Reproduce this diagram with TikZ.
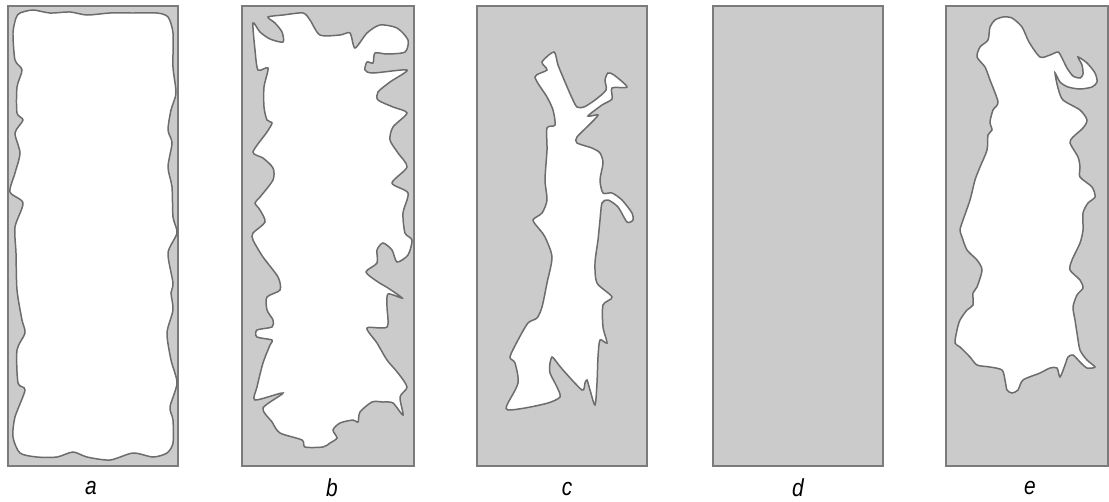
\documentclass[tikz,border=0pt]{standalone}
\usepackage{fontspec}
\setmainfont{Liberation Sans}
\definecolor{sand}{RGB}{203,203,203}
\definecolor{rim}{RGB}{108,108,108}
\tikzset{panel/.style = {fill=sand, draw=rim!90, line width=0.9pt}}
\tikzset{hole/.style = {fill=white, draw=rim, line width=0.85pt, smooth cycle, tension=0.45}}
\tikzset{tag/.style = {font=\fontsize{14}{16}\selectfont\itshape, xscale=0.85}}

\begin{document}
\begin{tikzpicture}[x=0.02cm, y=-0.02cm]
      \useasboundingbox (0,0) rectangle (1109,501);
      % a
      \draw [panel] (8,6) rectangle (178,466);
      \draw [hole] plot coordinates {(20,13) (33,10) (50,13) (70,12) (87,15) (110,13) (133,13) (157,13) (168,17)
        (173,33) (173,67) (176,93) (171,110) (168,130) (172,143) (168,167) (172,187) (173,217) (177,233)
        (168,253) (173,283) (171,293) (173,310) (167,333) (171,360) (177,383) (170,407) (173,420) (173,443)
        (167,453) (153,457) (133,453) (110,460) (87,457) (73,452) (57,457) (37,457) (20,453)
        (13,437) (15,417) (25,390) (18,383) (17,350) (25,333) (22,320) (17,290) (16,253) (15,227)
        (23,203) (10,192) (15,173) (20,153) (15,133) (23,120) (17,113) (17,87) (22,70) (15,60) (13,33) (16,18)};
      \node [tag] (la) at (91,488) {a};
      % b
      \draw [panel] (242,6) rectangle (414,466);
      \draw [hole] plot coordinates {(253,23) (260,32) (270,39) (283,42) (282,32) (275,23) (268,17) (283,15)
        (303,13) (310,20) (320,35) (340,35) (350,33) (355,48) (367,33) (380,25) (397,28) (408,40) (405,52)
        (387,54) (375,53) (373,63) (367,62) (365,70) (373,73) (407,70) (390,82) (378,92) (378,100) (393,107)
        (407,113) (393,127) (390,140) (398,153) (407,167) (392,183) (408,193) (403,213) (405,233)
        (412,240) (408,255) (397,262) (392,250) (383,243) (377,250) (377,263) (366,272) (378,282) (388,288)
        (402,298) (388,294) (387,307) (387,327) (367,328) (377,343) (387,360) (398,373) (407,387) (400,397)
        (403,415) (393,403) (383,402) (372,402) (360,412) (358,422) (353,420) (340,423) (333,430) (337,438)
        (330,443) (323,447) (305,447) (302,440) (280,433) (272,422) (263,408) (283,393) (255,400) (257,387)
        (263,363) (270,345) (272,340) (257,337) (257,330) (272,327) (273,320) (267,310) (267,297) (280,290)
        (278,277) (263,257) (253,240) (253,233) (265,222) (260,210) (255,203) (260,197) (273,180) (273,168)
        (263,158) (253,152) (267,132) (272,123) (267,120) (264,107) (264,87) (268,68) (258,70) (255,50)};
      \node [tag] (lb) at (332,488) {b};
      % c
      \draw [panel] (477,6) rectangle (647,466);
      \draw [hole] plot coordinates {(554,52) (558,65) (565,82) (572,98) (577,107) (584,107) (595,100) (606,90)
        (605,80) (608,73) (614,75) (627,87) (612,88) (612,99) (602,105) (588,116) (598,115) (590,124)
        (577,137) (577,143) (592,148) (600,153)
        (603,163) (600,180) (603,193) (612,193) (622,200) (632,213) (633,220) (627,222) (618,207) (608,200)
        (602,203) (600,220) (598,240) (595,263) (597,283) (612,297) (603,305) (603,327) (607,343) (600,340)
        (598,357) (597,383) (595,405) (590,390) (587,380) (585,383) (582,390) (563,370) (555,360) (552,357)
        (550,363) (550,373) (557,387) (560,397) (548,403) (525,408) (508,410) (507,405) (518,383) (515,363)
        (510,357) (518,340) (528,323) (537,318) (542,307) (547,283) (552,257) (545,237) (540,230) (533,220)
        (542,213) (547,200) (545,180) (547,150) (547,128) (555,125) (553,110) (547,97) (535,77) (547,70)
        (542,62)};
      \node [tag] (lc) at (567,489) {c};
      % d
      \draw [panel] (713,6) rectangle (883,466);
      \node [tag] (ld) at (798,488) {d};
      % e
      \draw [panel] (946,6) rectangle (1108,466);
      \draw [hole] plot coordinates {(1003,17) (1012,18) (1022,27) (1029,42) (1040,57) (1050,55) (1058,52)
        (1062,58) (1067,68) (1073,76) (1080,78) (1083,74) (1082,65) (1078,57) (1087,63) (1095,73) (1097,82)
        (1092,87) (1080,89) (1068,87) (1060,82) (1055,73) (1058,88) (1063,100) (1080,110) (1087,120)
        (1083,128) (1073,137) (1070,143)
        (1078,157) (1080,167) (1080,177) (1092,187) (1095,197) (1088,203) (1083,213) (1083,230)
        (1080,243) (1072,260) (1070,270) (1080,280) (1083,288) (1077,295) (1073,307) (1075,320) (1077,333)
        (1080,350) (1087,360) (1095,367) (1087,368) (1080,362) (1073,355) (1068,357) (1065,365) (1060,377)
        (1057,368) (1050,368) (1040,373) (1023,380) (1018,390) (1012,393) (1007,390) (1005,380) (1002,370)
        (990,367) (977,365) (970,357) (960,347) (955,343) (957,330) (960,320) (967,310) (973,305) (973,293)
        (977,287) (982,270) (977,260) (967,250) (962,237) (960,230) (963,220) (970,200) (975,180) (980,167)
        (987,150) (988,135) (992,130) (990,122) (993,110) (998,102) (990,80) (985,67) (977,57) (980,47)
        (988,40) (990,27) (995,20)};
      \node [tag] (le) at (1030,488) {e};
    \end{tikzpicture}
\end{document}
